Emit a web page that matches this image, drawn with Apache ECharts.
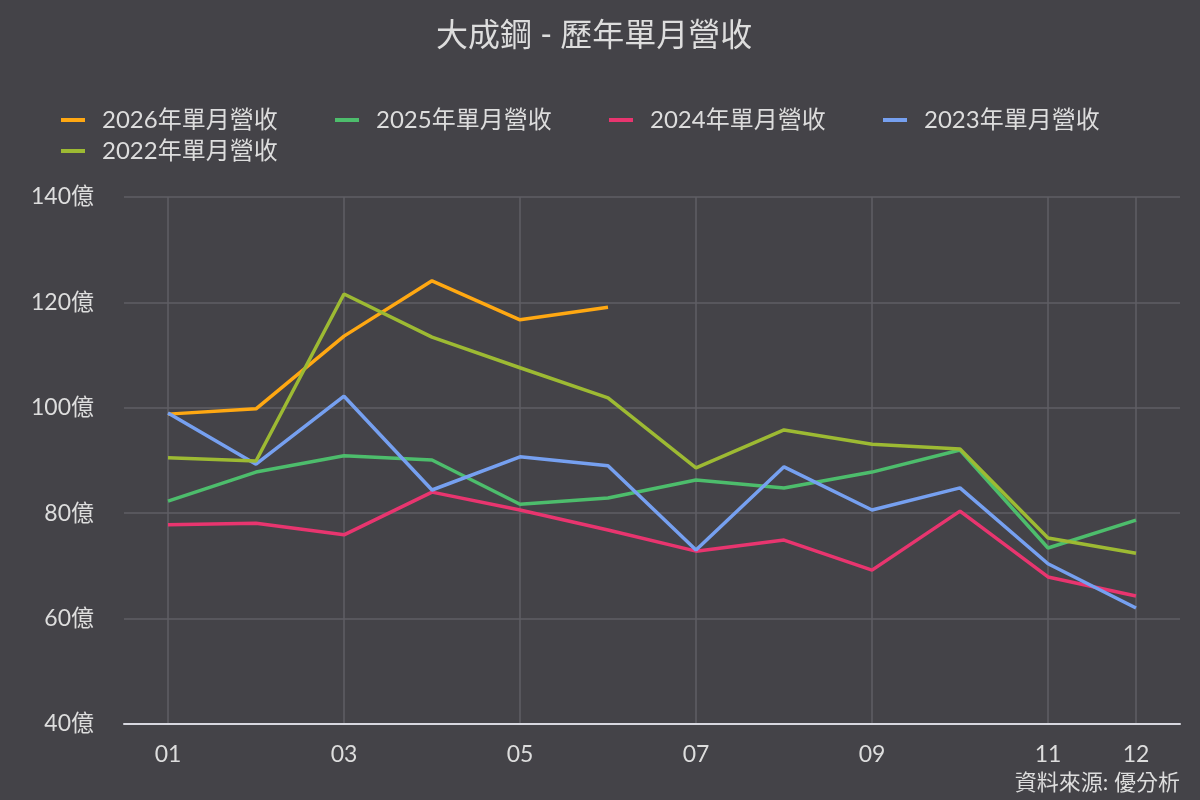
<!DOCTYPE html>
<html>
<head>
<meta charset="utf-8">
<script src="https://cdn.jsdelivr.net/npm/echarts@6/dist/echarts.min.js"></script>
<style>
  html, body { margin: 0; padding: 0; background: #444348; }
  #main { width: 1200px; height: 800px; }
</style>
</head>
<body>
<div id="main"></div>
<script>
var months = ['01','02','03','04','05','06','07','08','09','10','11','12'];
var yTicks = [40, 60, 80, 100, 120, 140];

var rev2026 = [98.8, 99.8, 113.6, 124.1, 116.7, 119.1];
var rev2025 = [82.3, 87.8, 90.9, 90.1, 81.7, 82.9, 86.3, 84.8, 87.8, 92.0, 73.4, 78.7];
var rev2024 = [77.8, 78.1, 75.9, 84.0, 80.6, 76.8, 72.8, 74.9, 69.2, 80.4, 67.9, 64.3];
var rev2023 = [99.0, 89.3, 102.2, 84.4, 90.7, 89.0, 73.0, 88.8, 80.6, 84.8, 70.4, 62.0];
var rev2022 = [90.5, 89.9, 121.6, 113.4, 107.6, 101.9, 88.6, 95.8, 93.1, 92.2, 75.3, 72.4];

var fontFam = "Lato, 'Noto Sans CJK TC', sans-serif";
var txtColor = '#dddddd';

function showMonth(idx) {
    // 01,03,05,...,11 and the last one
    return idx % 2 == 0 || idx == months.length - 1;
}

function makeLine(name, data, color) {
    return {
        name: name,
        type: 'line',
        data: data,
        symbol: 'none',
        lineStyle: { width: 3.5, color: color },
        itemStyle: { color: color }
    };
}

var myChart = echarts.init(document.getElementById('main'));
myChart.setOption({
    backgroundColor: '#444348',
    textStyle: { fontFamily: fontFam },
    title: [{
        text: '大成鋼 - 歷年單月營收',
        left: 431,
        top: 15,
        textStyle: { color: txtColor, fontSize: 32, fontWeight: 'normal', fontFamily: fontFam }
    }, {
        text: '資料來源: 優分析',
        right: 15,
        bottom: 1,
        textStyle: { color: txtColor, fontSize: 22, fontWeight: 'normal', fontFamily: fontFam }
    }],
    legend: {
        left: 56,
        top: 103,
        width: 1110,
        itemWidth: 24,
        itemHeight: 4,
        itemGap: 7,
        icon: 'rect',
        textStyle: {
            color: txtColor, fontSize: 24, lineHeight: 24, width: 226,
            padding: [0, 0, 0, 12], fontFamily: fontFam
        }
    },
    grid: { left: 124, right: 20, top: 197, bottom: 76 },
    xAxis: {
        type: 'category',
        data: months,
        boundaryGap: true,
        axisLine: { lineStyle: { color: '#d8d8e0', width: 2 } },
        axisTick: { show: false, alignWithLabel: true },
        axisLabel: {
            interval: function (idx) { return showMonth(idx); },
            color: txtColor, fontSize: 23, margin: 19, fontFamily: fontFam
        },
        splitLine: {
            show: true,
            alignWithLabel: true,
            interval: function (idx) { return showMonth(idx); },
            lineStyle: { color: '#5f5e64', width: 1.5 }
        }
    },
    yAxis: {
        type: 'value',
        min: yTicks[0],
        max: yTicks[yTicks.length - 1],
        interval: 20,
        axisLine: { show: false },
        axisTick: { show: false },
        axisLabel: {
            color: txtColor, fontSize: 23, margin: 30, fontFamily: fontFam,
            formatter: function (v) { return v + '億'; }
        },
        splitLine: { lineStyle: { color: '#5f5e64', width: 1.5 } }
    },
    series: [
        makeLine('2026年單月營收', rev2026, '#ffa812'),
        makeLine('2025年單月營收', rev2025, '#4dbd6c'),
        makeLine('2024年單月營收', rev2024, '#e8356f'),
        makeLine('2023年單月營收', rev2023, '#76a0f0'),
        makeLine('2022年單月營收', rev2022, '#9dba33')
    ]
});
</script>
</body>
</html>
